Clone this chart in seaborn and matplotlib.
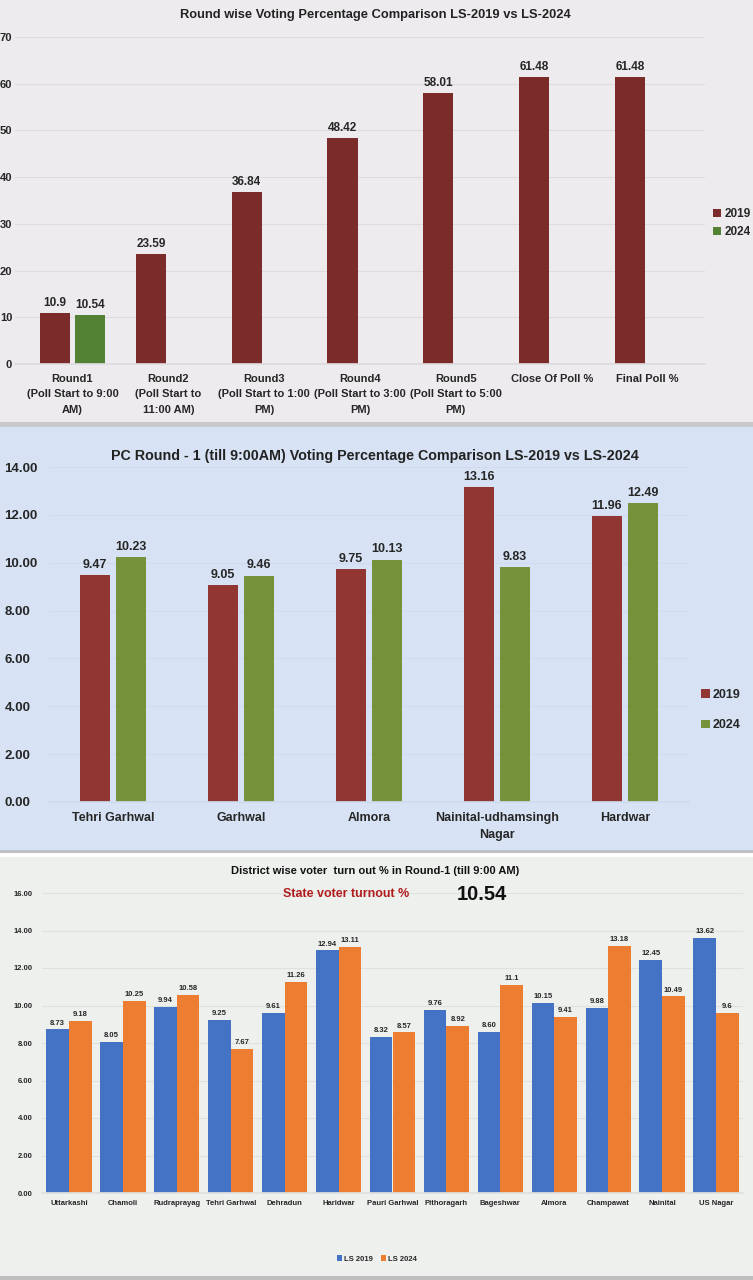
import numpy as np
import pandas as pd
import seaborn as sns
import matplotlib.pyplot as plt
from matplotlib.patches import Rectangle

# Round wise state turnout (LS-2019 vs LS-2024)
rounds = ["Round1\n(Poll Start to 9:00\nAM)", "Round2\n(Poll Start to\n11:00 AM)",
          "Round3\n(Poll Start to 1:00\nPM)", "Round4\n(Poll Start to 3:00\nPM)",
          "Round5\n(Poll Start to 5:00\nPM)", "Close Of Poll %", "Final Poll %"]
round_2019 = [10.9, 23.59, 36.84, 48.42, 58.01, 61.48, 61.48]
round_2024 = [10.54, np.nan, np.nan, np.nan, np.nan, np.nan, np.nan]

# PC wise, round 1
pcs = ["Tehri Garhwal", "Garhwal", "Almora", "Nainital-udhamsingh\nNagar", "Hardwar"]
pc_2019 = [9.47, 9.05, 9.75, 13.16, 11.96]
pc_2024 = [10.23, 9.46, 10.13, 9.83, 12.49]

# District wise, round 1
districts = ["Uttarkashi", "Chamoli", "Rudraprayag", "Tehri Garhwal", "Dehradun", "Haridwar",
             "Pauri Garhwal", "Pithoragarh", "Bageshwar", "Almora", "Champawat", "Nainital",
             "US Nagar"]
dist_2019 = [8.73, 8.05, 9.94, 9.25, 9.61, 12.94, 8.32, 9.76, 8.60, 10.15, 9.88, 12.45, 13.62]
dist_2024 = [9.18, 10.25, 10.58, 7.67, 11.26, 13.11, 8.57, 8.92, 11.1, 9.41, 13.18, 10.49, 9.6]
state_turnout = 10.54

sns.set_theme(style="white")
plt.rcParams["font.family"] = ["Liberation Sans", "DejaVu Sans"]

W, H = 753, 1280
fig = plt.figure(figsize=(W / 100, H / 100), dpi=100)


def box(l, t, r, b):
    return [l / W, 1 - b / H, (r - l) / W, (b - t) / H]


def band(t, b, color):
    fig.patches.append(Rectangle((0, 1 - b / H), 1, (b - t) / H, transform=fig.transFigure,
                                 facecolor=color, edgecolor="none", zorder=-5))


def long_df(cats, a, b, la, lb):
    df = pd.DataFrame({"cat": cats * 2,
                       "year": [la] * len(cats) + [lb] * len(cats),
                       "val": list(a) + list(b)})
    return df.dropna()


# panel backgrounds
band(0, 422, "#eeebee")
band(422, 427, "#c9c8ca")
band(427, 850, "#d7e3f4")
band(850, 853, "#bfc1c3")
band(853, 857, "#ffffff")
band(857, 1276, "#eef0ee")
band(1276, 1280, "#bebebe")


def style_axes(ax, grid_color):
    ax.set_facecolor("none")
    sns.despine(ax=ax, left=True, top=True, right=True)
    ax.spines["bottom"].set_color(grid_color)
    ax.grid(axis="y", color=grid_color, lw=0.8)
    ax.set_axisbelow(True)
    ax.set_xlabel("")
    ax.set_ylabel("")
    ax.tick_params(length=0)


def legend_at(ax, x, y, fs, loc="center left", ncol=1, spacing=0.5):
    handles, labels = ax.get_legend_handles_labels()
    ax.legend(handles, labels, loc=loc, bbox_to_anchor=(x / W, 1 - y / H),
              bbox_transform=fig.transFigure, frameon=False, ncol=ncol,
              handlelength=0.7, handleheight=0.7, handletextpad=0.25,
              labelspacing=spacing, columnspacing=1.0, borderaxespad=0, borderpad=0,
              prop={"size": fs, "weight": "bold"})


# ---- panel 1 ----
ax1 = fig.add_axes(box(15, 37, 705, 364))
df1 = long_df(rounds, round_2019, round_2024, "2019", "2024")
sns.barplot(data=df1, x="cat", y="val", hue="year", order=rounds, hue_order=["2019", "2024"],
            palette=["#7a2b2a", "#548235"], width=0.73, gap=0.14, ax=ax1, saturation=1,
            linewidth=0)
style_axes(ax1, "#dedbde")
ax1.set_ylim(0, 70)
ax1.set_yticks(range(0, 71, 10))
ax1.set_xlim(-0.6, 6.6)
ax1.tick_params(axis="y", labelsize=8, pad=2)
ax1.tick_params(axis="x", labelsize=8, pad=7)
for lab in ax1.get_xticklabels() + ax1.get_yticklabels():
    lab.set_fontweight("bold")
for lab in ax1.get_xticklabels():
    lab.set_linespacing(1.7)
ax1.bar_label(ax1.containers[0], fmt="{:g}", padding=3, fontsize=8.5, fontweight="bold")
ax1.bar_label(ax1.containers[1], fmt="{:g}", padding=3, fontsize=8.5, fontweight="bold")
legend_at(ax1, 713, 223, 8.5)
fig.text(375 / W, 1 - 15 / H, "Round wise Voting Percentage Comparison LS-2019 vs LS-2024",
         ha="center", va="center", fontsize=9.3, fontweight="bold", color="#222222")

# ---- panel 2 ----
ax2 = fig.add_axes(box(49, 467, 689, 802))
df2 = long_df(pcs, pc_2019, pc_2024, "2019", "2024")
sns.barplot(data=df2, x="cat", y="val", hue="year", order=pcs, hue_order=["2019", "2024"],
            palette=["#923634", "#76933c"], width=0.5625, gap=0.19, ax=ax2, saturation=1,
            linewidth=0)
style_axes(ax2, "#cfdbee")
ax2.set_ylim(0, 14)
ax2.set_yticks(np.arange(0, 14.1, 2))
ax2.set_yticklabels([f"{v:.2f}" for v in np.arange(0, 14.1, 2)])
ax2.set_xlim(-0.5, 4.5)
ax2.tick_params(axis="y", labelsize=9.5, pad=32)
for lab in ax2.get_yticklabels():
    lab.set_horizontalalignment("left")
ax2.tick_params(axis="x", labelsize=9, pad=7)
for lab in ax2.get_xticklabels() + ax2.get_yticklabels():
    lab.set_fontweight("bold")
for lab in ax2.get_xticklabels():
    lab.set_linespacing(1.6)
for c in ax2.containers:
    ax2.bar_label(c, fmt="{:.2f}", padding=3, fontsize=9, fontweight="bold")
legend_at(ax2, 701, 710, 9, spacing=1.5)
fig.text(375 / W, 1 - 456 / H,
         "PC Round - 1 (till 9:00AM) Voting Percentage Comparison LS-2019 vs LS-2024",
         ha="center", va="center", fontsize=10.3, fontweight="bold", color="#222222")

# ---- panel 3 ----
ax3 = fig.add_axes(box(42, 893, 743, 1193))
df3 = long_df(districts, dist_2019, dist_2024, "LS 2019", "LS 2024")
sns.barplot(data=df3, x="cat", y="val", hue="year", order=districts,
            hue_order=["LS 2019", "LS 2024"], palette=["#4472c4", "#ed7d31"],
            width=0.84, gap=0, ax=ax3, saturation=1, linewidth=0)
style_axes(ax3, "#dfe1df")
ax3.set_ylim(0, 16)
ax3.set_yticks(np.arange(0, 16.1, 2))
ax3.set_yticklabels([f"{v:.2f}" for v in np.arange(0, 16.1, 2)])
ax3.set_xlim(-0.5, 12.5)
ax3.tick_params(axis="y", labelsize=5.5, pad=7)
ax3.tick_params(axis="x", labelsize=5.5, pad=5)
for lab in ax3.get_xticklabels() + ax3.get_yticklabels():
    lab.set_fontweight("bold")
ax3.bar_label(ax3.containers[0], fmt="{:.2f}", padding=2, fontsize=5.5, fontweight="bold")
ax3.bar_label(ax3.containers[1], fmt="{:g}", padding=2, fontsize=5.5, fontweight="bold")
legend_at(ax3, 377, 1259, 5.5, loc="center", ncol=2)
fig.text(375 / W, 1 - 871 / H, "District wise voter  turn out % in Round-1 (till 9:00 AM)",
         ha="center", va="center", fontsize=8, fontweight="bold", color="#111111")
fig.text(346 / W, 1 - 894 / H, "State voter turnout %", ha="center", va="center",
         fontsize=9, fontweight="bold", color="#b01c1c")
fig.text(482 / W, 1 - 894 / H, f"{state_turnout:.2f}", ha="center", va="center",
         fontsize=14.5, fontweight="bold", color="#111111")

fig.savefig("out.png", dpi=100)
